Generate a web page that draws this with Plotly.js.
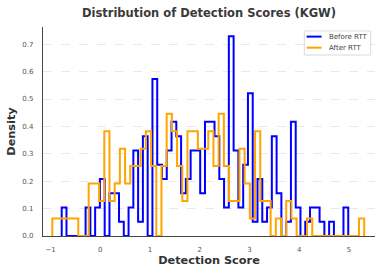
<!DOCTYPE html>
<html>
<head>
<meta charset="utf-8">
<script src="https://cdn.plot.ly/plotly-3.0.1.min.js"></script>
<style>html,body{margin:0;padding:0;background:#fff;}#chart{width:381px;height:275px;}</style>
</head>
<body>
<div id="chart"></div>
<script>
// Histogram counts per bin (60 bins each)
const beforeCounts = [2,0,0,0,0,2,0,2,4,0, 3,3,1,0,2,6,1,7,0,11, 5,4,6,8,7,3,4,6,6,3, 8,8,7,4,2,14,6,2,5,10, 1,4,1,2,7,3,0,1,8,2, 0,1,2,2,1,0,1,0,0,2];
const afterCounts  = [1,1,1,1,1,0,0,3,3,2, 6,2,3,5,3,4,4,5,6,4, 0,4,7,6,4,2,6,6,5,5, 6,4,7,4,2,2,5,3,1,6, 2,2,0,1,0,2,1,0,0,1, 0,0,0,0,0,0,0,0,0,1];
const beforeBinStart = -0.776, beforeBinWidth = 0.0960;
const afterBinStart = -0.965, afterBinWidth = 0.1045;
const seriesNames = ['Before RTT', 'After RTT'];
const xTickVals = [-1, 0, 1, 2, 3, 4, 5];

function stepTrace(counts, start, width, name, color) {
  const n = counts.reduce((a, b) => a + b, 0);
  const x = [start], y = [0];
  counts.forEach((c, i) => { x.push(start + i * width); y.push(c / (n * width)); });
  x.push(start + counts.length * width); y.push(0);
  return {x, y, type: 'scatter', mode: 'lines', name,
    line: {shape: 'hv', color, width: 2}, hoverinfo: 'skip'};
}

const traces = [
  stepTrace(beforeCounts, beforeBinStart, beforeBinWidth, seriesNames[0], '#0000ff'),
  stepTrace(afterCounts, afterBinStart, afterBinWidth, seriesNames[1], '#ffa500')
];

const F = 'DejaVu Sans, sans-serif';
const layout = {
  width: 381, height: 275,
  margin: {l: 43, r: 6, t: 27, b: 39},
  paper_bgcolor: '#fff', plot_bgcolor: '#fff',
  showlegend: false,
  font: {family: F, color: '#555'},
  title: {text: 'Distribution of Detection Scores (KGW)', x: 0.5, xref: 'paper', xanchor: 'center',
    y: 1 - 12.7 / 275, yref: 'container', yanchor: 'middle',
    font: {family: F, size: 11.5, weight: 'bold', color: '#3a3a3a'}},
  xaxis: {range: [-1.152, 5.522], tickvals: xTickVals, showgrid: false, zeroline: false,
    showline: true, linecolor: '#444', linewidth: 1.2, ticks: '', ticklabelstandoff: 6,
    tickfont: {family: F, size: 7, color: '#555'},
    title: {text: 'Detection Score', standoff: 3, font: {family: F, size: 11.3, weight: 'bold', color: '#333'}}},
  yaxis: {range: [0, 0.763], dtick: 0.1, tickformat: '.1f', showgrid: true, gridcolor: '#e3e3e3',
    griddash: 'dash', gridwidth: 0.8, zeroline: false, showline: true, linecolor: '#444', linewidth: 1.2,
    ticks: '', ticklabelstandoff: 7, tickfont: {family: F, size: 7, color: '#555'},
    title: {text: 'Density', standoff: 4, font: {family: F, size: 11.3, weight: 'bold', color: '#333'}}},
  shapes: [
    {type: 'rect', xref: 'paper', yref: 'paper', x0: 0.787, x1: 0.987, y0: 0.866, y1: 0.981,
      line: {color: '#d0d0d0', width: 0.8}, fillcolor: 'rgba(255,255,255,0.85)'},
    {type: 'line', xref: 'paper', yref: 'paper', x0: 0.794, x1: 0.839, y0: 0.954, y1: 0.954,
      line: {color: '#0000ff', width: 2}},
    {type: 'line', xref: 'paper', yref: 'paper', x0: 0.794, x1: 0.839, y0: 0.901, y1: 0.901,
      line: {color: '#ffa500', width: 2}}
  ],
  annotations: [
    {text: seriesNames[0], xref: 'paper', yref: 'paper', x: 0.856, y: 0.954, xanchor: 'left', yanchor: 'middle',
      showarrow: false, font: {family: F, size: 7, color: '#444'}},
    {text: seriesNames[1], xref: 'paper', yref: 'paper', x: 0.856, y: 0.901, xanchor: 'left', yanchor: 'middle',
      showarrow: false, font: {family: F, size: 7, color: '#444'}}
  ]
};

Plotly.newPlot('chart', traces, layout, {staticPlot: true, displayModeBar: false});
</script>
</body>
</html>
